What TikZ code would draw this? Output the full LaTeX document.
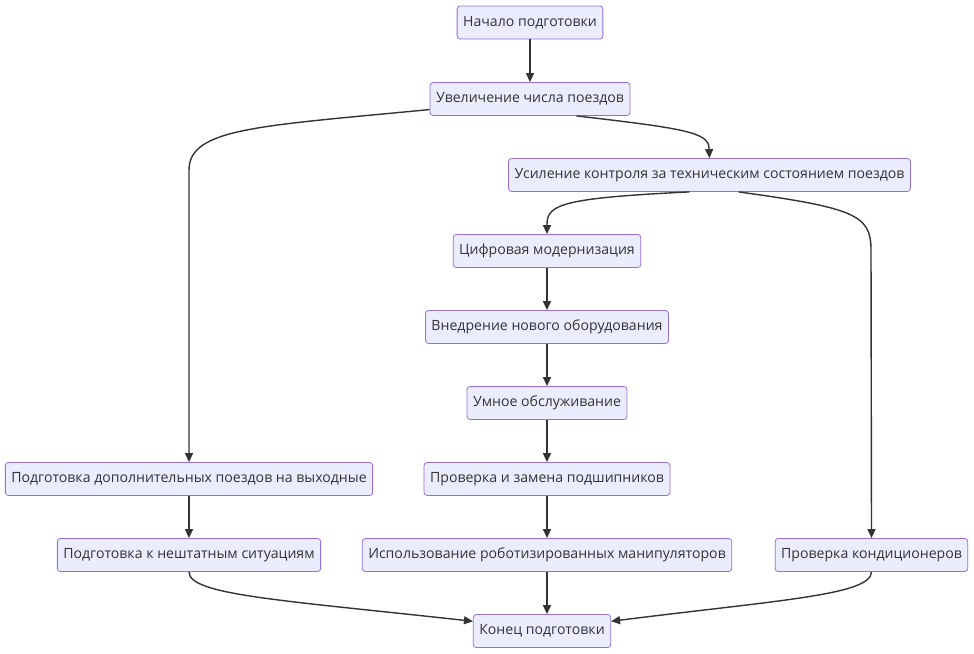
\documentclass[tikz,border=0pt]{standalone}
\usepackage{fontspec}
\setmainfont{Open Sans}
\usetikzlibrary{arrows.meta}
\definecolor{nodefill}{HTML}{ECECFF}
\definecolor{nodeline}{HTML}{9370DB}
\definecolor{ink}{HTML}{333333}
\tikzset{
  box/.style={draw=nodeline, fill=nodefill, rounded corners=3pt, line width=0.8pt,
    minimum height=33pt, inner xsep=6pt, inner ysep=0pt, text=ink,
    font=\fontsize{14.1}{16}\selectfont},
  link/.style={draw=ink, line width=1.4pt, -{Triangle[length=9pt,width=8pt]}}
}
\begin{document}
\begin{tikzpicture}[x=1pt,y=-1pt]
\useasboundingbox (0,0) rectangle (974,653);
\node[box] (n1) at (530,22.5) {Начало подготовки};
\node[box] (n2) at (530,99) {Увеличение числа поездов};
\node[box] (n3) at (709.5,175) {Усиление контроля за техническим состоянием поездов};
\node[box] (n4) at (547,251) {Цифровая модернизация};
\node[box] (n5) at (547,327) {Внедрение нового оборудования};
\node[box] (n6) at (547,403) {Умное обслуживание};
\node[box] (n7) at (547,479) {Проверка и замена подшипников};
\node[box] (n8) at (189,479) {Подготовка дополнительных поездов на выходные};
\node[box] (n9) at (189,555) {Подготовка к нештатным ситуациям};
\node[box] (n10) at (547,555) {Использование роботизированных манипуляторов};
\node[box] (n11) at (871.5,555) {Проверка кондиционеров};
\node[box] (n12) at (542,631) {Конец подготовки};

\coordinate (c28) at (189,170);
\coordinate (c23) at (709,148);
\coordinate (c34) at (547,224);
\coordinate (c311) at (871,250);

\draw[link] (n1) -- (n2);
\draw[link] (n2.186) .. controls (260,126) and (189,128) .. (c28) -- (n8.north);
\draw[link] (n2.-20) .. controls (680,128) and (709,132) .. (c23) -- (n3.north);
\draw[link] (n3.-140) .. controls (565,198) and (547,204) .. (c34) -- (n4.north);
\draw[link] (n3.-30) .. controls (855,208) and (871,215) .. (c311) -- (n11.north);
\draw[link] (n4) -- (n5);
\draw[link] (n5) -- (n6);
\draw[link] (n6) -- (n7);
\draw[link] (n7) -- (n10);
\draw[link] (n8) -- (n9);
\draw[link] (n10.south) -- (n10.south |- n12.north);
\draw[link] (n9.south) .. controls (189,595) and (280,600) .. (n12.172);
\draw[link] (n11.south) .. controls (871,595) and (780,600) .. (n12.8);
\end{tikzpicture}
\end{document}
